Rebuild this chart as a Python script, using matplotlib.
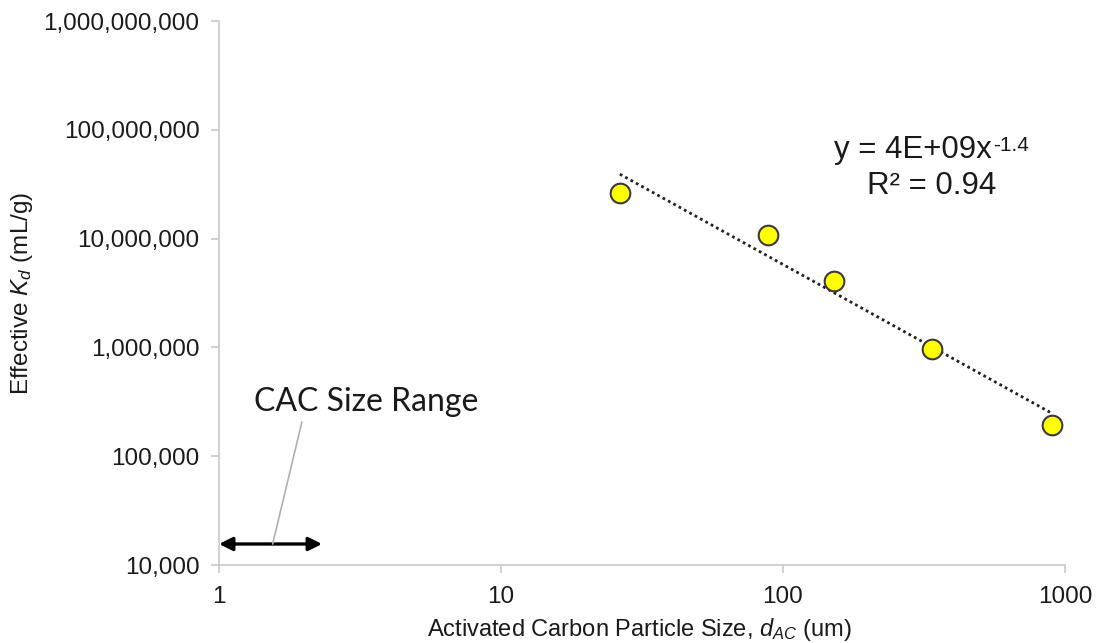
import numpy as np
import matplotlib.pyplot as plt
from matplotlib.ticker import FixedLocator, FuncFormatter

plt.rcParams['font.family'] = ['Liberation Sans', 'DejaVu Sans']
plt.rcParams['mathtext.fontset'] = 'custom'
plt.rcParams['mathtext.rm'] = 'Liberation Sans'
plt.rcParams['mathtext.it'] = 'Liberation Sans:italic'

# Data
particle_size = [26.4, 88.5, 152, 337, 899]             # um
kd_effective = [2.6e7, 1.08e7, 4.08e6, 9.67e5, 1.94e5]  # mL/g

x_ticks = [1, 10, 100, 1000]
y_ticks = [1e4, 1e5, 1e6, 1e7, 1e8, 1e9]

cac_range = [1, 2.32]
cac_level = 1.56e4

# Power-law fit (trendline)
b, log_a = np.polyfit(np.log10(particle_size), np.log10(kd_effective), 1)
fit_x = np.array([min(particle_size), max(particle_size)])
fit_y = 10**log_a * fit_x**b

fig = plt.figure(figsize=(10.96, 6.43), dpi=100)
ax = fig.add_axes([0.1998, 0.1213, 0.7719, 0.846])

ax.plot(fit_x, fit_y, linestyle=(0, (1, 1.2)), color='#222222', linewidth=2.0, zorder=2)
ax.scatter(particle_size, kd_effective, s=200, color='#ffff00', edgecolor='#3a3a3a',
           linewidth=1.5, zorder=3)

ax.set_xscale('log')
ax.set_yscale('log')
ax.set_xlim(1, 1000)
ax.set_ylim(1e4, 1e9)
ax.xaxis.set_major_locator(FixedLocator(x_ticks))
ax.yaxis.set_major_locator(FixedLocator(y_ticks))
ax.xaxis.set_minor_locator(FixedLocator([]))
ax.yaxis.set_minor_locator(FixedLocator([]))
ax.xaxis.set_major_formatter(FuncFormatter(lambda v, p: f'{v:.0f}'))
ax.yaxis.set_major_formatter(FuncFormatter(lambda v, p: f'{v:,.0f}'))

for s in ['top', 'right']:
    ax.spines[s].set_visible(False)
for s in ['left', 'bottom']:
    ax.spines[s].set_color('#c8c8c8')
    ax.spines[s].set_linewidth(1.2)
ax.tick_params(axis='both', direction='out', length=6, width=1.2, color='#c8c8c8',
               labelsize=17.5, labelcolor='#1a1a1a')
ax.tick_params(axis='x', pad=9)
ax.tick_params(axis='y', pad=8)

ax.set_xlabel(r'Activated Carbon Particle Size, $d_{AC}$ (um)', fontsize=17, color='#1a1a1a')
ax.set_ylabel(r'Effective $K_d$ (mL/g)', fontsize=17.5, color='#1a1a1a')
ax.xaxis.set_label_coords(0.497, -0.093)
ax.yaxis.set_label_coords(-0.2175, 0.5)

# Trendline equation
eq = ax.text(0.820, 0.763, 'y = 4E+09x', transform=ax.transAxes,
             ha='center', va='center', fontsize=22.5, color='#1a1a1a')
ax.annotate('-1.4', xy=(1, 1), xycoords=eq, xytext=(1, -1), textcoords='offset points',
            ha='left', va='top', fontsize=15, color='#1a1a1a')
ax.text(0.842, 0.697, 'R² = 0.94', transform=ax.transAxes,
        ha='center', va='center', fontsize=22.5, color='#1a1a1a')

# CAC size range arrow
ax.annotate('', xy=(cac_range[0], cac_level), xytext=(cac_range[1], cac_level),
            arrowprops=dict(arrowstyle='<|-|>', color='black', lw=2.4, mutation_scale=20,
                            shrinkA=0, shrinkB=0), clip_on=False)
ax.annotate('', xy=(1.55, cac_level), xytext=(0.098, 0.263), textcoords='axes fraction',
            arrowprops=dict(arrowstyle='-', color='#b0b0b0', lw=1.2, shrinkA=0, shrinkB=0))
ax.text(0.174, 0.30, 'CAC Size Range', transform=ax.transAxes, ha='center', va='center',
        fontsize=23, family=['Lato', 'DejaVu Sans'], color='#1a1a1a')

fig.savefig('out.png', dpi=100)
